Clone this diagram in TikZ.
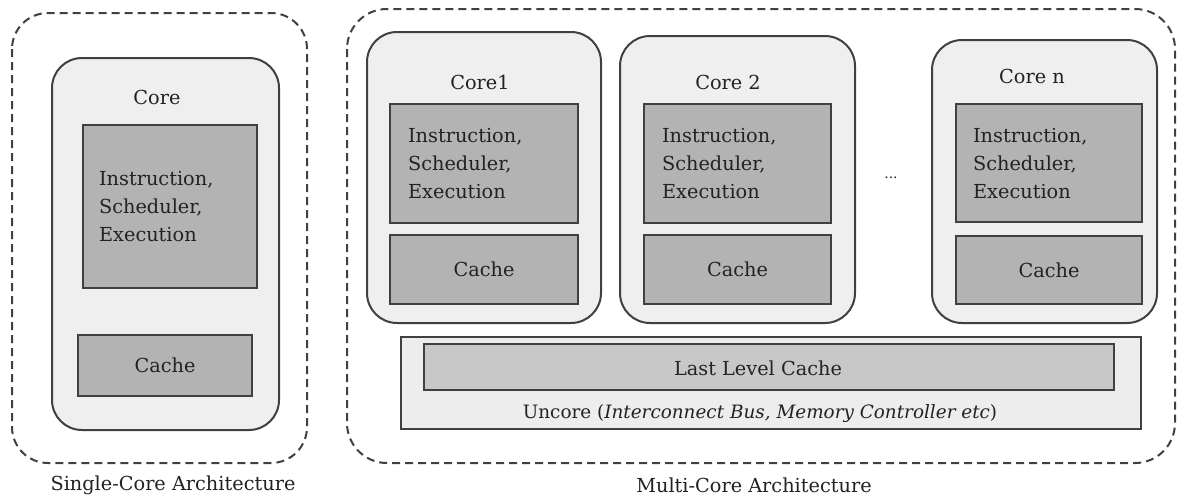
\documentclass[tikz,border=0pt]{standalone}
\usepackage{fontspec}
\setmainfont{DejaVu Serif}
\usetikzlibrary{positioning}
\definecolor{edge}{HTML}{404040}
\definecolor{corefill}{HTML}{EFEFEF}
\definecolor{unitfill}{HTML}{B3B3B3}
\definecolor{llcfill}{HTML}{C8C8C8}
\definecolor{uncorefill}{HTML}{EDEDED}
\definecolor{ink}{HTML}{222222}
\tikzset{
  x=1pt, y=-1pt,
  txt/.style={font=\fontsize{19.3}{28}\selectfont, text=ink, inner sep=0pt},
  outerbox/.style={draw=edge, line width=2pt, dashed, dash pattern=on 8pt off 5pt, rounded corners=36pt},
  corebox/.style={draw=edge, line width=2pt, fill=corefill, rounded corners=30pt},
  unitbox/.style={draw=edge, line width=2.2pt, fill=unitfill},
  llcbox/.style={draw=edge, line width=2.2pt, fill=llcfill},
  uncorebox/.style={draw=edge, line width=2pt, fill=uncorefill},
}
\newcommand{\isetext}{Instruction,\\Scheduler,\\Execution}
\begin{document}
\begin{tikzpicture}
\useasboundingbox (0,0) rectangle (1177,496);
% single core
\draw[outerbox] (12,13) rectangle (307,463);
\draw[corebox] (52,58) rectangle (279,430);
\node[txt] (sctitle) at (157,97) {Core};
\node[unitbox, anchor=north west, minimum width=174pt, minimum height=163pt, txt, inner xsep=16pt, text width=142pt, align=left] (scise) at (82,124) {\isetext};
\node[unitbox, anchor=north west, minimum width=174pt, minimum height=61pt, txt] (sccache) at (77,334) {Cache};
\node[txt] (sclabel) at (173,485) {Single-Core Architecture};
% multi core
\draw[outerbox, rounded corners=40pt] (347,9) rectangle (1175,463);
\draw[corebox] (367,32) rectangle (601,323);
\draw[corebox] (620,36) rectangle (855,323);
\draw[corebox] (932,40) rectangle (1157,323);
\node[txt] (c1title) at (480,82) {Core1};
\node[txt] (c2title) at (728,82) {Core 2};
\node[txt] (cntitle) at (1032,76) {Core n};
\node[unitbox, anchor=north west, minimum width=188pt, minimum height=119pt, txt, inner xsep=18pt, text width=152pt, align=left] (c1ise) at (389,103) {\isetext};
\node[unitbox, anchor=north west, minimum width=188pt, minimum height=69pt, txt] (c1cache) at (389,234) {Cache};
\node[unitbox, anchor=north west, minimum width=187pt, minimum height=119pt, txt, inner xsep=18pt, text width=151pt, align=left] (c2ise) at (643,103) {\isetext};
\node[unitbox, anchor=north west, minimum width=187pt, minimum height=69pt, txt] (c2cache) at (643,234) {Cache};
\node[unitbox, anchor=north west, minimum width=186pt, minimum height=118pt, txt, inner xsep=17pt, text width=152pt, align=left] (cnise) at (955,103) {\isetext};
\node[unitbox, anchor=north west, minimum width=186pt, minimum height=68pt, txt] (cncache) at (955,235) {Cache};
\node[txt, font=\fontsize{14}{14}\selectfont] (dots) at (891,178) {...};
\node[uncorebox, anchor=north west, minimum width=740pt, minimum height=92pt] (uncore) at (400,336) {};
\node[llcbox, anchor=north west, minimum width=690pt, minimum height=46pt] (llc) at (423,343) {};
\node[txt] (llctext) at (758,368) {Last Level Cache};
\node[txt, font=\fontsize{18.4}{28}\selectfont] (uncoretext) at (760,414) {Uncore (\textit{Interconnect Bus, Memory Controller etc})};
\node[txt] (mclabel) at (754,485) {Multi-Core Architecture};
\end{tikzpicture}
\end{document}
